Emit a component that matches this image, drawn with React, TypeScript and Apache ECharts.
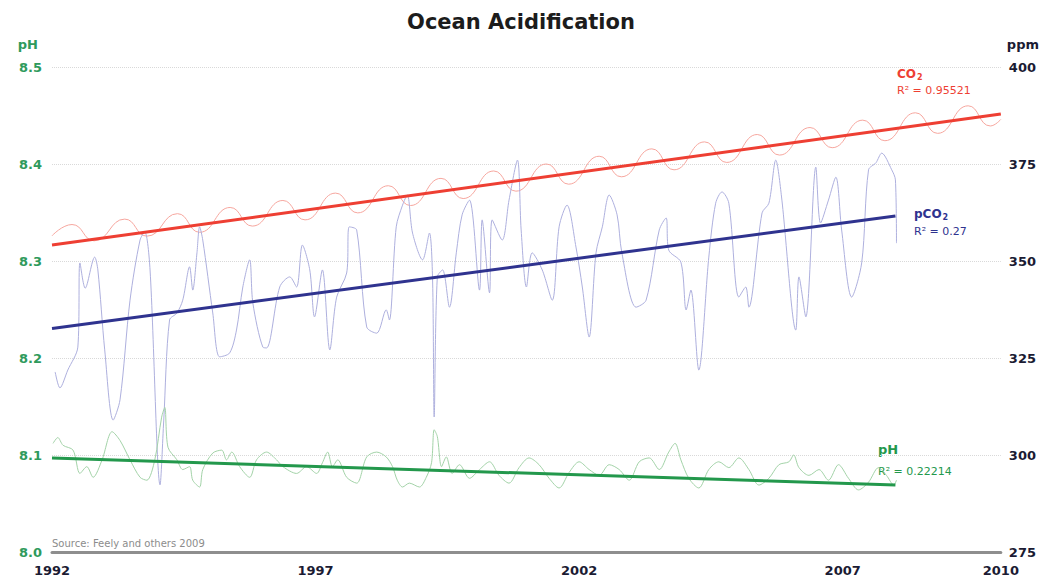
import React, { useEffect, useRef } from 'react';
import * as echarts from 'echarts';

const BASE_YEAR = 1992;
const END_YEAR = 2010;

// Atmospheric CO2 (ppm), seasonal cycle
const co2Year = [1992.0, 1992.38, 1992.8, 1993.38, 1993.8, 1994.38, 1994.8, 1995.38, 1995.8, 1996.38, 1996.8, 1997.38, 1997.8, 1998.38, 1998.8, 1999.38, 1999.8, 2000.38, 2000.8, 2001.38, 2001.8, 2002.38, 2002.8, 2003.38, 2003.8, 2004.38, 2004.8, 2005.38, 2005.8, 2006.38, 2006.8, 2007.38, 2007.8, 2008.38, 2008.8, 2009.38, 2009.8, 2010.0];
const co2Ppm = [356.5, 359.4, 355.2, 360.8, 356.4, 362.2, 357.4, 363.8, 359.0, 365.6, 360.6, 367.5, 362.4, 369.4, 364.3, 371.3, 366.1, 373.2, 368.0, 375.0, 369.8, 377.0, 371.7, 378.9, 373.5, 380.7, 375.4, 382.6, 377.3, 384.4, 379.2, 386.3, 381.0, 388.2, 382.9, 390.0, 384.8, 386.5];

// Seawater pCO2 (ppm)
const pco2Year = [1992.06, 1992.15, 1992.30, 1992.49, 1992.53, 1992.63, 1992.81, 1992.87, 1993.00, 1993.16, 1993.29, 1993.48, 1993.67, 1993.76, 1993.86, 1994.05, 1994.12, 1994.23, 1994.37, 1994.48, 1994.61, 1994.67, 1994.75, 1994.80, 1994.86, 1995.05, 1995.18, 1995.37, 1995.50, 1995.62, 1995.75, 1995.81, 1996.00, 1996.07, 1996.32, 1996.51, 1996.64, 1996.75, 1996.89, 1996.98, 1997.13, 1997.27, 1997.40, 1997.59, 1997.64, 1997.78, 1997.97, 1998.16, 1998.34, 1998.40, 1998.53, 1998.65, 1998.74, 1998.84, 1999.03, 1999.16, 1999.22, 1999.25, 1999.31, 1999.41, 1999.54, 1999.67, 1999.78, 1999.92, 2000.11, 2000.16, 2000.30, 2000.35, 2000.54, 2000.67, 2000.83, 2000.90, 2001.00, 2001.11, 2001.30, 2001.49, 2001.62, 2001.77, 2001.94, 2002.06, 2002.19, 2002.32, 2002.44, 2002.57, 2002.72, 2002.81, 2003.08, 2003.27, 2003.52, 2003.65, 2003.70, 2003.93, 2004.03, 2004.12, 2004.27, 2004.46, 2004.59, 2004.71, 2004.84, 2005.03, 2005.16, 2005.22, 2005.47, 2005.60, 2005.73, 2005.84, 2006.11, 2006.17, 2006.30, 2006.49, 2006.58, 2006.73, 2006.87, 2006.98, 2007.17, 2007.36, 2007.49, 2007.63, 2007.74, 2007.93, 2008.00, 2008.02];
const pco2Ppm = [321.4, 317.3, 321.9, 327.8, 349.5, 343.0, 351.0, 347.7, 327.1, 309.0, 314.2, 339.9, 355.4, 357.5, 347.7, 292.3, 309.0, 334.8, 336.6, 339.9, 348.5, 342.5, 352.1, 358.8, 355.4, 336.6, 325.3, 326.3, 332.2, 343.3, 350.3, 339.2, 327.8, 327.6, 343.3, 345.9, 343.3, 354.1, 347.7, 335.6, 347.7, 327.1, 340.7, 346.9, 358.8, 358.0, 333.0, 331.4, 337.4, 334.8, 358.8, 364.4, 367.0, 357.2, 350.3, 357.2, 345.1, 309.8, 345.9, 347.7, 338.1, 352.1, 361.9, 365.7, 342.5, 360.6, 341.8, 360.6, 355.4, 365.7, 376.0, 358.0, 343.3, 352.1, 347.7, 339.9, 358.8, 364.4, 353.6, 343.3, 330.4, 352.1, 358.8, 367.0, 361.9, 352.1, 338.1, 339.9, 358.0, 361.1, 352.8, 349.7, 337.4, 342.5, 321.9, 351.0, 364.9, 367.8, 364.9, 340.7, 343.3, 338.1, 362.4, 364.9, 376.0, 366.5, 332.2, 345.9, 335.6, 374.2, 359.8, 365.7, 371.6, 358.0, 340.7, 349.5, 373.5, 375.3, 377.8, 373.5, 370.9, 354.6];

// Seawater pH
const phYear = [1992.02, 1992.11, 1992.21, 1992.40, 1992.53, 1992.66, 1992.78, 1992.95, 1993.14, 1993.29, 1993.48, 1993.67, 1993.80, 1993.95, 1994.08, 1994.14, 1994.20, 1994.37, 1994.48, 1994.61, 1994.67, 1994.80, 1994.86, 1995.05, 1995.22, 1995.31, 1995.41, 1995.56, 1995.75, 1995.88, 1996.07, 1996.26, 1996.38, 1996.64, 1996.83, 1997.02, 1997.13, 1997.23, 1997.32, 1997.42, 1997.59, 1997.78, 1997.97, 1998.16, 1998.34, 1998.46, 1998.55, 1998.65, 1998.78, 1998.97, 1999.10, 1999.20, 1999.25, 1999.31, 1999.39, 1999.48, 1999.59, 1999.73, 1999.92, 2000.11, 2000.30, 2000.48, 2000.67, 2000.86, 2001.05, 2001.24, 2001.43, 2001.62, 2001.81, 2002.00, 2002.19, 2002.38, 2002.57, 2002.76, 2002.95, 2003.14, 2003.33, 2003.52, 2003.70, 2003.82, 2003.93, 2004.08, 2004.27, 2004.46, 2004.65, 2004.84, 2005.03, 2005.22, 2005.41, 2005.60, 2005.79, 2005.98, 2006.07, 2006.17, 2006.36, 2006.55, 2006.73, 2006.92, 2007.11, 2007.30, 2007.49, 2007.68, 2007.83, 2007.97, 2008.02];
const phValue = [8.112, 8.118, 8.110, 8.105, 8.081, 8.088, 8.077, 8.095, 8.124, 8.115, 8.095, 8.077, 8.074, 8.095, 8.139, 8.149, 8.108, 8.095, 8.085, 8.088, 8.074, 8.067, 8.085, 8.102, 8.105, 8.095, 8.103, 8.088, 8.077, 8.095, 8.103, 8.095, 8.088, 8.081, 8.088, 8.081, 8.092, 8.103, 8.088, 8.095, 8.077, 8.071, 8.098, 8.103, 8.098, 8.088, 8.074, 8.067, 8.071, 8.067, 8.077, 8.092, 8.126, 8.119, 8.088, 8.098, 8.081, 8.090, 8.076, 8.085, 8.093, 8.079, 8.071, 8.087, 8.097, 8.090, 8.076, 8.066, 8.082, 8.093, 8.085, 8.079, 8.090, 8.085, 8.074, 8.093, 8.097, 8.085, 8.103, 8.112, 8.095, 8.076, 8.066, 8.085, 8.093, 8.087, 8.097, 8.085, 8.069, 8.076, 8.090, 8.093, 8.100, 8.087, 8.079, 8.085, 8.074, 8.090, 8.076, 8.064, 8.072, 8.087, 8.079, 8.069, 8.074];

// Linear trend end points
const co2TrendYear = [1992.0, 2010.0];
const co2TrendPpm = [354.1, 387.9];
const pco2TrendYear = [1992.0, 2008.0];
const pco2TrendPpm = [332.6, 361.6];
const phTrendYear = [1992.0, 2008.0];
const phTrendValue = [8.097, 8.069];

const RED = '#ee3f33';
const RED_LIGHT = '#f6a69e';
const NAVY = '#2f338f';
const NAVY_LIGHT = '#aeb0de';
const GREEN = '#23984c';
const GREEN_LIGHT = '#a3d3a8';
const GREEN_LABEL = '#2f9a5c';
const FONT = 'DejaVu Sans, Verdana, sans-serif';

const pairs = (xs: number[], ys: number[]) => xs.map((x, i) => [x - BASE_YEAR, ys[i]]);

export default function App() {
  const ref = useRef<HTMLDivElement>(null);
  useEffect(() => {
    document.body.style.margin = '0';
    if (!ref.current) return;
    const chart = echarts.init(ref.current, undefined, { renderer: 'svg' });
    const labelText = (main: string, color: string) => ({
      text: `{m|${main}}{s|2}`,
      rich: {
        m: { fontSize: 12, fontWeight: 'bold', fill: color, fontFamily: FONT },
        s: { fontSize: 8, fontWeight: 'bold', fill: color, fontFamily: FONT, padding: [7, 0, 0, 1] },
      },
    });
    chart.setOption({
      animation: false,
      title: {
        text: 'Ocean Acidification',
        left: 'center',
        top: 6,
        textStyle: { fontSize: 21, fontWeight: 'bold', color: '#1c1c1c', fontFamily: FONT },
      },
      grid: { left: 52, right: 40, top: 67, bottom: 30, containLabel: false },
      xAxis: {
        type: 'value',
        min: 0,
        max: END_YEAR - BASE_YEAR,
        interval: 5,
        axisLine: { show: true, lineStyle: { color: '#8e8e8e', width: 3 } },
        axisTick: { show: false },
        splitLine: { show: false },
        axisLabel: {
          color: '#1b1b33',
          fontWeight: 'bold',
          fontSize: 13,
          fontFamily: FONT,
          margin: 12,
          showMinLabel: true,
          showMaxLabel: true,
          formatter: (v: number) => String(BASE_YEAR + Math.round(v)),
        },
      },
      yAxis: [
        {
          type: 'value',
          position: 'left',
          min: 8.0,
          max: 8.5,
          interval: 0.1,
          name: 'pH',
          nameLocation: 'end',
          nameGap: 16,
          nameTextStyle: { color: GREEN_LABEL, fontWeight: 'bold', fontSize: 13, fontFamily: FONT, align: 'right', padding: [0, 14, 0, 0] },
          axisLine: { show: false },
          axisTick: { show: false },
          axisLabel: {
            color: GREEN_LABEL,
            fontWeight: 'bold',
            fontSize: 13,
            fontFamily: FONT,
            margin: 10,
            formatter: (v: number) => v.toFixed(1),
          },
          splitLine: { show: true, lineStyle: { color: '#d9d9d9', type: 'dotted', width: 1 } },
        },
        {
          type: 'value',
          position: 'right',
          min: 275,
          max: 400,
          interval: 25,
          name: 'ppm',
          nameLocation: 'end',
          nameGap: 16,
          nameTextStyle: { color: '#1b1b33', fontWeight: 'bold', fontSize: 13, fontFamily: FONT, align: 'left', padding: [0, 0, 0, 6] },
          axisLine: { show: false },
          axisTick: { show: false },
          axisLabel: { color: '#1b1b33', fontWeight: 'bold', fontSize: 13, fontFamily: FONT, margin: 8 },
          splitLine: { show: false },
        },
      ],
      series: [
        {
          name: 'CO2', type: 'line', yAxisIndex: 1, data: pairs(co2Year, co2Ppm), smooth: 0.5,
          symbol: 'none', lineStyle: { color: RED_LIGHT, width: 1 }, z: 2,
        },
        {
          name: 'pCO2', type: 'line', yAxisIndex: 1, data: pairs(pco2Year, pco2Ppm), smooth: 0.3,
          symbol: 'none', lineStyle: { color: NAVY_LIGHT, width: 1 }, z: 2,
        },
        {
          name: 'pH', type: 'line', yAxisIndex: 0, data: pairs(phYear, phValue), smooth: 0.3,
          symbol: 'none', lineStyle: { color: GREEN_LIGHT, width: 1 }, z: 2,
        },
        {
          name: 'CO2 trend', type: 'line', yAxisIndex: 1, data: pairs(co2TrendYear, co2TrendPpm),
          symbol: 'none', lineStyle: { color: RED, width: 3 }, z: 3,
        },
        {
          name: 'pCO2 trend', type: 'line', yAxisIndex: 1, data: pairs(pco2TrendYear, pco2TrendPpm),
          symbol: 'none', lineStyle: { color: NAVY, width: 3 }, z: 3,
        },
        {
          name: 'pH trend', type: 'line', yAxisIndex: 0, data: pairs(phTrendYear, phTrendValue),
          symbol: 'none', lineStyle: { color: GREEN, width: 3 }, z: 3,
        },
      ],
      graphic: [
        { type: 'text', x: 897, y: 66, style: { ...labelText('CO', RED) } },
        { type: 'text', x: 897, y: 85, style: { text: 'R² = 0.95521', fill: RED, fontSize: 11, fontFamily: FONT } },
        { type: 'text', x: 914, y: 206, style: { ...labelText('pCO', NAVY) } },
        { type: 'text', x: 914, y: 226, style: { text: 'R² = 0.27', fill: NAVY, fontSize: 11, fontFamily: FONT } },
        { type: 'text', x: 878, y: 443, style: { text: 'pH', fill: GREEN, fontSize: 13, fontWeight: 'bold', fontFamily: FONT } },
        { type: 'text', x: 878, y: 466, style: { text: 'R² = 0.22214', fill: GREEN, fontSize: 11, fontFamily: FONT } },
        { type: 'text', x: 52, y: 538, style: { text: 'Source: Feely and others 2009', fill: '#8c8c8c', fontSize: 10, fontFamily: FONT } },
      ],
    });
    return () => chart.dispose();
  }, []);
  return <div ref={ref} style={{ width: 1042, height: 582 }} />;
}
